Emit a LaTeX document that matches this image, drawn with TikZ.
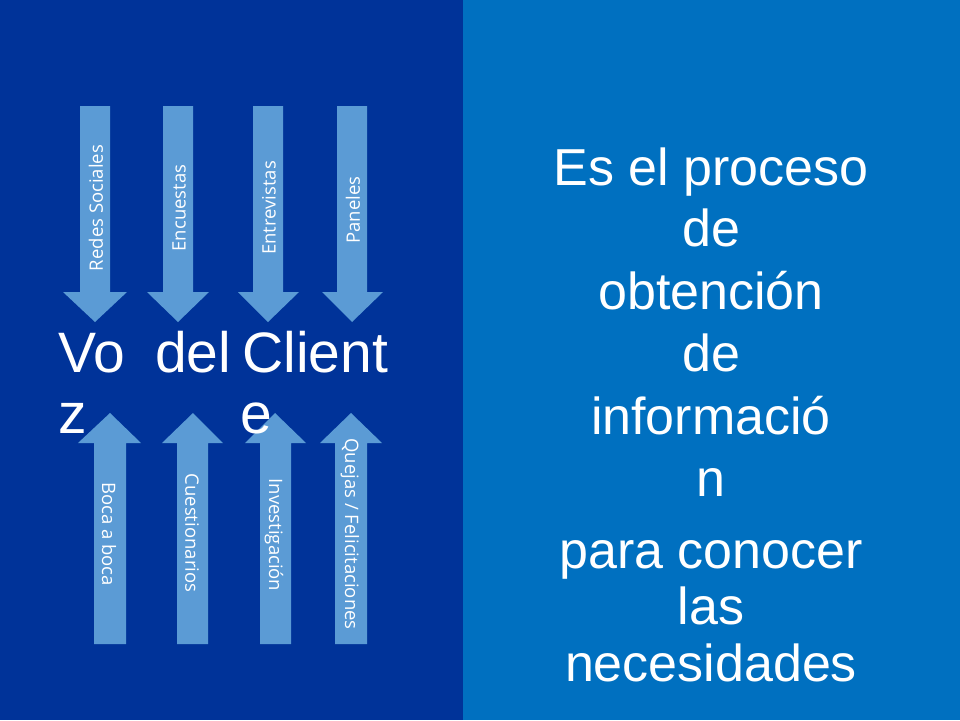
\documentclass[tikz,border=0pt]{standalone}
\usepackage{fontspec}
\setmainfont{Liberation Sans}
\newfontfamily\labelfont{Open Sans}
\definecolor{darkpanel}{RGB}{0,51,153}
\definecolor{lightpanel}{RGB}{0,112,192}
\definecolor{arrowblue}{RGB}{91,155,213}
\begin{document}
\begin{tikzpicture}[x=1pt,y=-1pt,
  blockarrow/.style={fill=arrowblue,draw=none},
  arrowlabel/.style={text=white,font=\labelfont\fontsize{18.5}{21}\selectfont,inner sep=0pt},
  bigword/.style={text=white,font=\fontsize{57}{60}\selectfont,anchor=base west,inner sep=0pt},
  bodyline/.style={text=white,font=\fontsize{52}{56}\selectfont,anchor=base,inner sep=0pt}]
\useasboundingbox (0,0) rectangle (960,720);
\fill[darkpanel] (0,0) rectangle (463,720);
\fill[lightpanel] (463,0) rectangle (960,720);
% down arrows
\fill[blockarrow] (80,106) -- (110,106) -- (110,292) -- (127,292) -- (95,322) -- (63,292) -- (80,292) -- cycle;
\fill[blockarrow] (163,106) -- (193,106) -- (193,292) -- (209,292) -- (178,322) -- (147,292) -- (163,292) -- cycle;
\fill[blockarrow] (253,106) -- (283,106) -- (283,292) -- (299,292) -- (268,322) -- (238,292) -- (253,292) -- cycle;
\fill[blockarrow] (337,106) -- (367,106) -- (367,292) -- (383,292) -- (352,322) -- (322,292) -- (337,292) -- cycle;
% up arrows
\fill[blockarrow] (94,644) -- (126,644) -- (126,443) -- (141,443) -- (110,413) -- (78,443) -- (94,443) -- cycle;
\fill[blockarrow] (177,644) -- (208,644) -- (208,443) -- (223,443) -- (193,413) -- (162,443) -- (177,443) -- cycle;
\fill[blockarrow] (260,644) -- (291,644) -- (291,443) -- (306,443) -- (275,413) -- (245,443) -- (260,443) -- cycle;
\fill[blockarrow] (335,644) -- (367,644) -- (367,443) -- (382,443) -- (351,413) -- (320,443) -- (335,443) -- cycle;
% arrow labels
\node[arrowlabel,rotate=90] (l1) at (96,208) {Redes Sociales};
\node[arrowlabel,rotate=90] (l2) at (179,208) {Encuestas};
\node[arrowlabel,rotate=90] (l3) at (269,208) {Entrevistas};
\node[arrowlabel,rotate=90] (l4) at (353,210) {Paneles};
\node[arrowlabel,rotate=-90] (l5) at (109,534) {Boca a boca};
\node[arrowlabel,rotate=-90] (l6) at (192,533) {Cuestionarios};
\node[arrowlabel,rotate=-90] (l7) at (274,535) {Investigación};
\node[arrowlabel,rotate=-90] (l8) at (350,534) {Quejas / Felicitaciones};
% central words
\node[bigword] (w1) at (58,372) {Vo};
\node[bigword] (w1b) at (58,433) {z};
\node[bigword] (w2) at (155,372) {del};
\node[bigword] (w3) at (242,372) {Client};
\node[bigword] (w3b) at (240,433) {e};
% right text
\node[bodyline] (r1) at (711,185) {Es el proceso};
\node[bodyline] (r2) at (711,246) {de};
\node[bodyline] (r3) at (711,309) {obtención};
\node[bodyline] (r4) at (711,371) {de};
\node[bodyline] (r5) at (711,434) {informació};
\node[bodyline] (r6) at (711,496) {n};
\node[bodyline] (r7) at (711,568) {para conocer};
\node[bodyline] (r8) at (711,624) {las};
\node[bodyline] (r9) at (711,681) {necesidades};
\end{tikzpicture}
\end{document}
